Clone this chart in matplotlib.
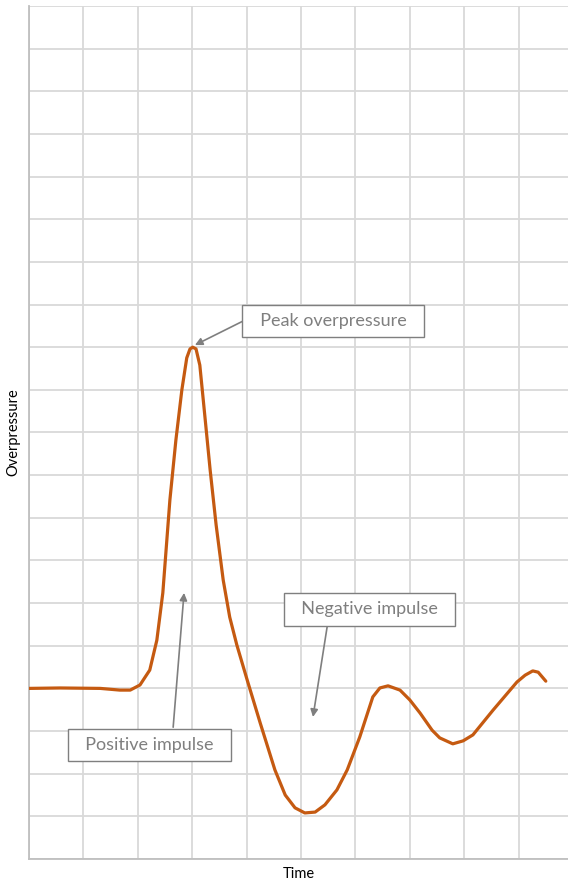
import matplotlib.pyplot as plt

# valores (unidades de la cuadricula)
tiempo = [0.00, 0.57, 1.31, 1.67, 1.86, 2.04, 2.22, 2.35, 2.46, 2.59, 2.70,
          2.81, 2.90, 2.96, 3.01, 3.07, 3.14, 3.24, 3.33, 3.44, 3.57, 3.69,
          3.82, 4.01, 4.25, 4.52, 4.71, 4.89, 5.07, 5.26, 5.44, 5.66, 5.85,
          6.08, 6.32, 6.45, 6.60, 6.82, 7.00, 7.19, 7.41, 7.55, 7.79, 7.98,
          8.16, 8.53, 8.75, 8.97, 9.12, 9.26, 9.36, 9.50]
sobrepresion = [4.00, 4.01, 4.00, 3.96, 3.96, 4.08, 4.43, 5.13, 6.24, 8.42,
                9.82, 11.00, 11.75, 11.96, 12.00, 11.96, 11.58, 10.29, 9.12,
                7.83, 6.54, 5.67, 5.02, 4.20, 3.19, 2.09, 1.50, 1.20, 1.08,
                1.10, 1.27, 1.62, 2.09, 2.86, 3.80, 4.01, 4.06, 3.96, 3.73,
                3.42, 3.02, 2.84, 2.70, 2.77, 2.91, 3.49, 3.82, 4.15, 4.31,
                4.41, 4.38, 4.17]

gris = "#7F7F7F"

fig = plt.figure(figsize=(5.68, 8.81), dpi=100)
ax = fig.add_axes([29/568, 1 - 859/881, 1 - 29/568, (859 - 6)/881])

ax.plot(tiempo, sobrepresion, color="#C55A11", lw=2.3,
        solid_joinstyle="round", solid_capstyle="round", zorder=3)

ax.set_xlim(0, (568 - 29)/54.4)
ax.set_ylim(0, 20)
ax.set_xticks(range(0, 10))
ax.set_yticks(range(0, 21))
ax.tick_params(length=0, labelbottom=False, labelleft=False)
ax.grid(True, color="#D9D9D9", lw=1.3)
for lado in ["top", "right"]:
    ax.spines[lado].set_visible(False)
for lado in ["left", "bottom"]:
    ax.spines[lado].set_color("#BFBFBF")
    ax.spines[lado].set_linewidth(1.3)

ax.set_xlabel("Time", fontsize=10.5, family="Lato", labelpad=6)
ax.set_ylabel("Overpressure", fontsize=10.5, family="Lato", labelpad=6)

caja = dict(boxstyle="square,pad=0.45", fc="white", ec=gris, lw=1.0)
flecha = dict(arrowstyle="-|>", color=gris, lw=1.2, mutation_scale=11,
              shrinkA=0, shrinkB=0)

ax.annotate("", xy=(3.05, 12.05), xytext=(3.93, 12.61), arrowprops=flecha)
ax.text(5.59, 12.61, "  Peak overpressure  ", ha="center", va="center",
        fontsize=13, color=gris, family="Lato", bbox=caja, zorder=4)

ax.annotate("", xy=(5.22, 3.33), xytext=(5.48, 5.44), arrowprops=flecha)
ax.text(6.26, 5.85, "  Negative impulse  ", ha="center", va="center",
        fontsize=13, color=gris, family="Lato", bbox=caja, zorder=4)

ax.annotate("", xy=(2.85, 6.24), xytext=(2.65, 3.09), arrowprops=flecha)
ax.text(2.21, 2.67, "  Positive impulse  ", ha="center", va="center",
        fontsize=13, color=gris, family="Lato", bbox=caja, zorder=4)

plt.savefig("out.png", dpi=100)
